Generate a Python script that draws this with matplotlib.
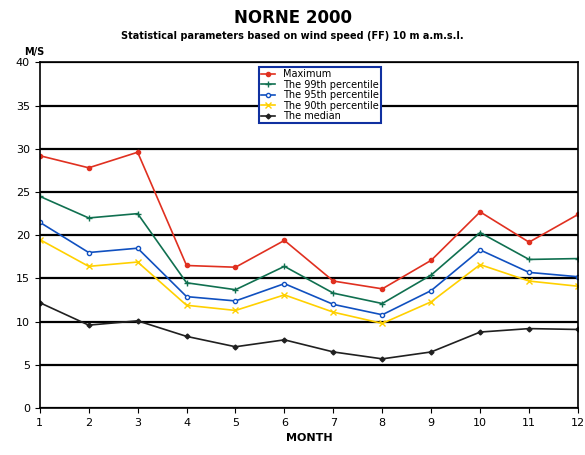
import matplotlib
matplotlib.use('Agg')
import matplotlib.pyplot as plt

months = list(range(1, 13))
maximum = [29.2, 27.8, 29.6, 16.5, 16.3, 19.4, 14.7, 13.8, 17.1, 22.7, 19.2, 22.4]
p99 = [24.5, 22.0, 22.5, 14.5, 13.7, 16.4, 13.3, 12.1, 15.4, 20.3, 17.2, 17.3]
p95 = [21.5, 18.0, 18.5, 12.9, 12.4, 14.4, 12.0, 10.8, 13.6, 18.3, 15.7, 15.2]
p90 = [19.5, 16.4, 16.9, 11.9, 11.3, 13.1, 11.1, 9.8, 12.3, 16.6, 14.7, 14.1]
median = [12.2, 9.6, 10.1, 8.3, 7.1, 7.9, 6.5, 5.7, 6.5, 8.8, 9.2, 9.1]

fig = plt.figure(figsize=(5.85, 4.55), dpi=100)
ax = fig.add_axes([0.068, 0.103, 0.92, 0.76])

for y in range(0, 45, 5):
    ax.axhline(y, color='black', lw=1.6, zorder=0)

ax.plot(months, maximum, '-o', color='#e03020', ms=3, lw=1.2, label='Maximum')
ax.plot(months, p99, '-+', color='#107050', ms=5, lw=1.2, label='The 99th percentile')
ax.plot(months, p95, '-o', color='#1050c0', ms=3, mfc='white', lw=1.2, label='The 95th percentile')
ax.plot(months, p90, '-x', color='#ffd000', ms=4, lw=1.2, label='The 90th percentile')
ax.plot(months, median, '-D', color='#202020', ms=2.5, lw=1.2, label='The median')

ax.set_xlim(1, 12)
ax.set_ylim(0, 40)
ax.set_xticks(months)
ax.set_yticks(range(0, 45, 5))
ax.tick_params(labelsize=8)
ax.set_xlabel('MONTH', fontsize=8, fontweight='bold')
ax.text(-0.03, 1.02, 'M/S', transform=ax.transAxes, fontsize=7, fontweight='bold')
for s in ax.spines.values():
    s.set_linewidth(1.2)

leg = ax.legend(loc='upper center', bbox_to_anchor=(0.52, 1.0), fontsize=7,
                handlelength=1.5, labelspacing=0.05, borderpad=0.2,
                fancybox=False, edgecolor='#1030a0', framealpha=1)
leg.get_frame().set_linewidth(1.5)

fig.text(0.5, 0.95, 'NORNE 2000', ha='center', fontsize=12, fontweight='bold')
fig.text(0.5, 0.915, 'Statistical parameters based on wind speed (FF) 10 m a.m.s.l.',
         ha='center', fontsize=7, fontweight='bold')

fig.savefig('out.png')
